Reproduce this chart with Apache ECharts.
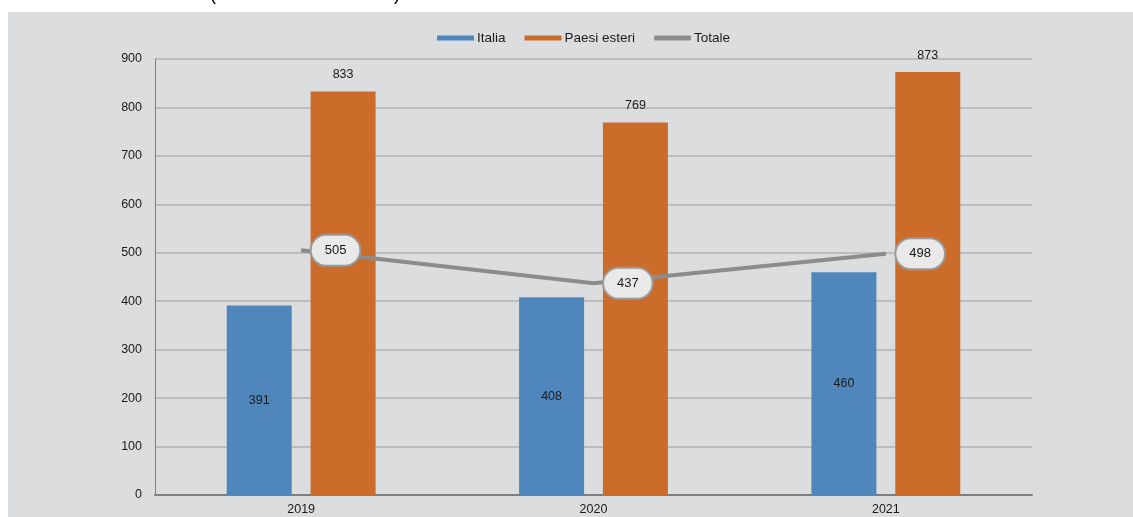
<!DOCTYPE html>
<html>
<head>
<meta charset="utf-8">
<script src="https://cdn.jsdelivr.net/npm/echarts@6/dist/echarts.min.js"></script>
<style>
html,body{margin:0;padding:0;background:#ffffff;}
#c{width:1133px;height:517px;}
</style>
</head>
<body>
<div id="c"></div>
<script>
var categories = ['2019', '2020', '2021'];
var italia = [391, 408, 460];
var paesiEsteri = [833, 769, 873];
var totale = [505, 437, 498];
var yTicks = [0, 100, 200, 300, 400, 500, 600, 700, 800, 900];

var chart = echarts.init(document.getElementById('c'), null, {renderer: 'canvas'});
var font = 'Liberation Sans, Arial, sans-serif';
chart.setOption({
  animation: false,
  backgroundColor: '#ffffff',
  textStyle: {fontFamily: font},
  graphic: [
    {type: 'rect', silent: true, z: -10, shape: {x: 8, y: 12, width: 1125, height: 505}, style: {fill: '#dcdddf'}},
    {type: 'text', silent: true, z: -9, style: {x: 305, y: 4, text: '(valori in milioni di euro)', fill: '#000', font: '18px Liberation Sans, Arial, sans-serif', textAlign: 'center', textVerticalAlign: 'bottom'}}
  ],
  legend: {
    top: 26,
    left: 432,
    itemWidth: 37,
    itemHeight: 5,
    itemGap: 19,
    textStyle: {fontSize: 13.5, color: '#1a1a1a', fontFamily: font, padding: [0, 0, 0, -2]},
    data: [
      {name: 'Italia', icon: 'rect'},
      {name: 'Paesi esteri', icon: 'rect'},
      {name: 'Totale', icon: 'roundRect'}
    ]
  },
  grid: {left: 155, right: 101, top: 59, bottom: 22, containLabel: false},
  xAxis: {
    type: 'category',
    data: categories,
    axisLine: {lineStyle: {color: '#7f7f7f', width: 2}},
    axisTick: {show: false},
    axisLabel: {color: '#1a1a1a', fontSize: 12.5, margin: 8}
  },
  yAxis: {
    type: 'value',
    min: yTicks[0],
    max: yTicks[yTicks.length - 1],
    interval: 100,
    axisLine: {show: true, lineStyle: {color: '#7f7f7f', width: 1}},
    axisTick: {show: false},
    axisLabel: {color: '#1a1a1a', fontSize: 12.5, margin: 13},
    splitLine: {lineStyle: {color: '#bdbdbd', width: 2}}
  },
  series: [
    {
      name: 'Italia', type: 'bar', data: italia,
      barWidth: 65, barGap: '29%',
      itemStyle: {color: '#4f86bc'},
      label: {show: true, position: 'inside', color: '#1a1a1a', fontSize: 12.5}
    },
    {
      name: 'Paesi esteri', type: 'bar', data: paesiEsteri,
      barWidth: 65,
      itemStyle: {color: '#cc6c2a'},
      label: {show: true, position: 'top', distance: 10, color: '#1a1a1a', fontSize: 12.5}
    },
    {
      name: 'Totale', type: 'line', data: totale,
      symbol: 'circle', symbolSize: 1,
      itemStyle: {color: '#8c8c8c'},
      lineStyle: {color: '#8c8c8c', width: 4},
      z: 5,
      label: {
        show: true, position: 'right', distance: 10,
        color: '#1a1a1a', fontSize: 13,
        backgroundColor: '#e9e9e9', borderColor: '#9a9a9a', borderWidth: 2,
        borderRadius: 15, padding: [8, 13]
      }
    }
  ]
});
</script>
</body>
</html>
